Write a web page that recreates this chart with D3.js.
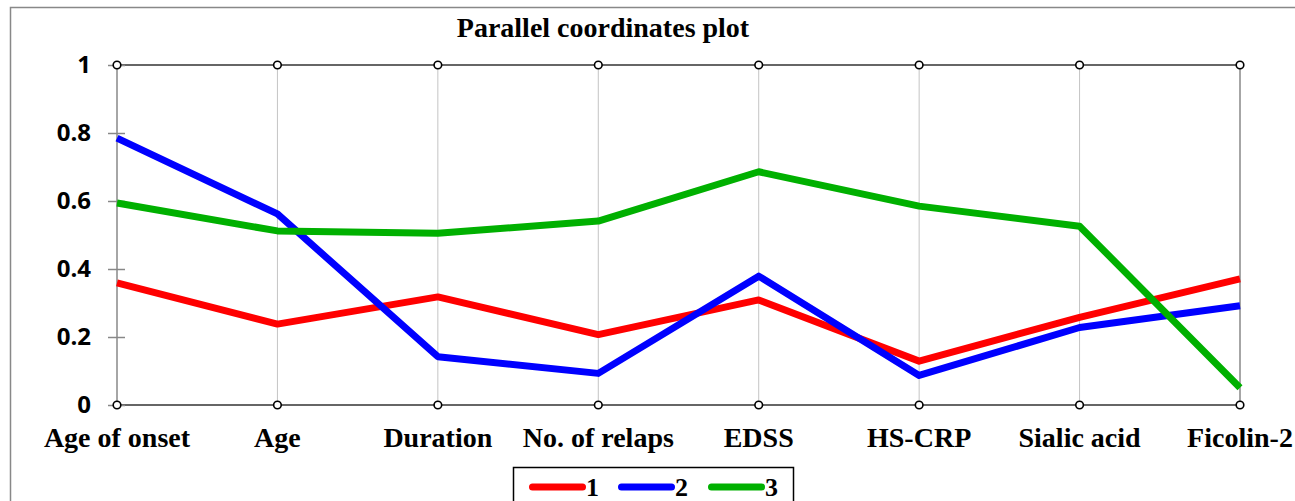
<!DOCTYPE html>
<html>
<head>
<meta charset="utf-8">
<script src="https://unpkg.com/d3@7/dist/d3.min.js"></script>
<style>
  body { margin: 0; background: #fff; }
</style>
</head>
<body>
<div class="chart"></div>
<script>
// data
const categories = ["Age of onset", "Age", "Duration", "No. of relaps", "EDSS", "HS-CRP", "Sialic acid", "Ficolin-2"];
const group1 = [0.359, 0.238, 0.318, 0.207, 0.309, 0.129, 0.258, 0.371];
const group2 = [0.785, 0.562, 0.142, 0.093, 0.379, 0.087, 0.228, 0.292];
const group3 = [0.594, 0.512, 0.505, 0.541, 0.686, 0.585, 0.526, 0.051];
const seriesNames = ["1", "2", "3"];
const yTicks = [0, 0.2, 0.4, 0.6, 0.8, 1];

const series = [
  { name: seriesNames[0], values: group1, color: "#ff0000" },
  { name: seriesNames[1], values: group2, color: "#0000ff" },
  { name: seriesNames[2], values: group3, color: "#00b000" }
];

const W = 1295, H = 501;
const plotLeft = 117, plotRight = 1240, plotTop = 65, plotBottom = 405;
const serif = "'Liberation Serif', 'Times New Roman', serif";

const svg = d3.select(".chart")
  .append("svg")
  .attr("width", W)
  .attr("height", H);

// outer frame (runs off right/bottom edge)
svg.append("rect")
  .attr("x", 10.5).attr("y", 7.5)
  .attr("width", 1300).attr("height", 520)
  .attr("fill", "none")
  .attr("stroke", "#888")
  .attr("stroke-width", 1.5);

const xScale = d3.scalePoint().domain(categories).range([plotLeft, plotRight]);
const yScale = d3.scaleLinear().domain([0, 1]).range([plotBottom, plotTop]);

// vertical axis lines
svg.append("g")
  .selectAll("line")
  .data(categories)
  .join("line")
  .attr("x1", d => xScale(d)).attr("x2", d => xScale(d))
  .attr("y1", plotTop).attr("y2", plotBottom)
  .attr("stroke", (d, i) => (i === 0 || i === categories.length - 1) ? "#888" : "#c4c4c4")
  .attr("stroke-width", (d, i) => (i === 0 || i === categories.length - 1) ? 1.5 : 1);

// top and bottom lines
svg.append("g")
  .selectAll("line")
  .data([0, 1])
  .join("line")
  .attr("x1", plotLeft).attr("x2", plotRight)
  .attr("y1", d => yScale(d)).attr("y2", d => yScale(d))
  .attr("stroke", "#666")
  .attr("stroke-width", 2);

// y axis
const yAxis = d3.axisLeft(yScale)
  .tickValues(yTicks)
  .tickFormat(d => d === 0 || d === 1 ? d3.format("d")(d) : d3.format(".1f")(d))
  .tickSize(9)
  .tickPadding(18);

const yAxisGraph = svg.append("g")
  .attr("class", "axis y-axis")
  .attr("transform", `translate(${plotLeft},0)`)
  .call(yAxis);

yAxisGraph.select(".domain").remove();
yAxisGraph.selectAll(".tick line")
  .attr("x2", -9).attr("x1", 8)
  .attr("stroke", "#888")
  .attr("stroke-width", 1.5);
yAxisGraph.selectAll(".tick text")
  .attr("x", -26)
  .attr("font-family", "'Open Sans', Lato, sans-serif")
  .attr("font-weight", "bold")
  .attr("font-size", "24px")
  .attr("fill", "#000");

// series lines
const line = d3.line()
  .x((d, i) => xScale(categories[i]))
  .y(d => yScale(d));

svg.append("g")
  .selectAll("path")
  .data(series)
  .join("path")
  .attr("d", d => line(d.values))
  .attr("fill", "none")
  .attr("stroke", d => d.color)
  .attr("stroke-width", 7)
  .attr("stroke-linejoin", "round");

// little circles at axis ends
const ends = [];
categories.forEach(c => { ends.push([c, 0]); ends.push([c, 1]); });
svg.append("g")
  .selectAll("circle")
  .data(ends)
  .join("circle")
  .attr("cx", d => xScale(d[0]))
  .attr("cy", d => yScale(d[1]))
  .attr("r", 3.8)
  .attr("fill", "#fff")
  .attr("stroke", "#000")
  .attr("stroke-width", 1.6);

// category labels
svg.append("g")
  .selectAll("text")
  .data(categories)
  .join("text")
  .attr("x", d => xScale(d))
  .attr("y", 447)
  .attr("text-anchor", "middle")
  .attr("font-family", serif)
  .attr("font-weight", "bold")
  .attr("font-size", "28px")
  .text(d => d);

// title
svg.append("text")
  .attr("x", 603)
  .attr("y", 37)
  .attr("text-anchor", "middle")
  .attr("font-family", serif)
  .attr("font-weight", "bold")
  .attr("font-size", "28px")
  .text("Parallel coordinates plot");

// legend
const legend = svg.append("g").attr("transform", "translate(513,467)");
legend.append("rect")
  .attr("x", 0.5).attr("y", 0.5)
  .attr("width", 280).attr("height", 50)
  .attr("fill", "#fff")
  .attr("stroke", "#000")
  .attr("stroke-width", 1.5);

const legendX = d3.scaleOrdinal().domain(seriesNames).range([16, 105, 195]);
const items = legend.selectAll(".item")
  .data(series)
  .join("g")
  .attr("class", "item")
  .attr("transform", d => `translate(${legendX(d.name)},20)`);
items.append("line")
  .attr("x1", 3.5).attr("x2", 53.5)
  .attr("y1", 0).attr("y2", 0)
  .attr("stroke", d => d.color)
  .attr("stroke-width", 7)
  .attr("stroke-linecap", "round");
items.append("text")
  .attr("x", 57)
  .attr("y", 9)
  .attr("font-family", serif)
  .attr("font-weight", "bold")
  .attr("font-size", "26px")
  .text(d => d.name);
</script>
</body>
</html>
